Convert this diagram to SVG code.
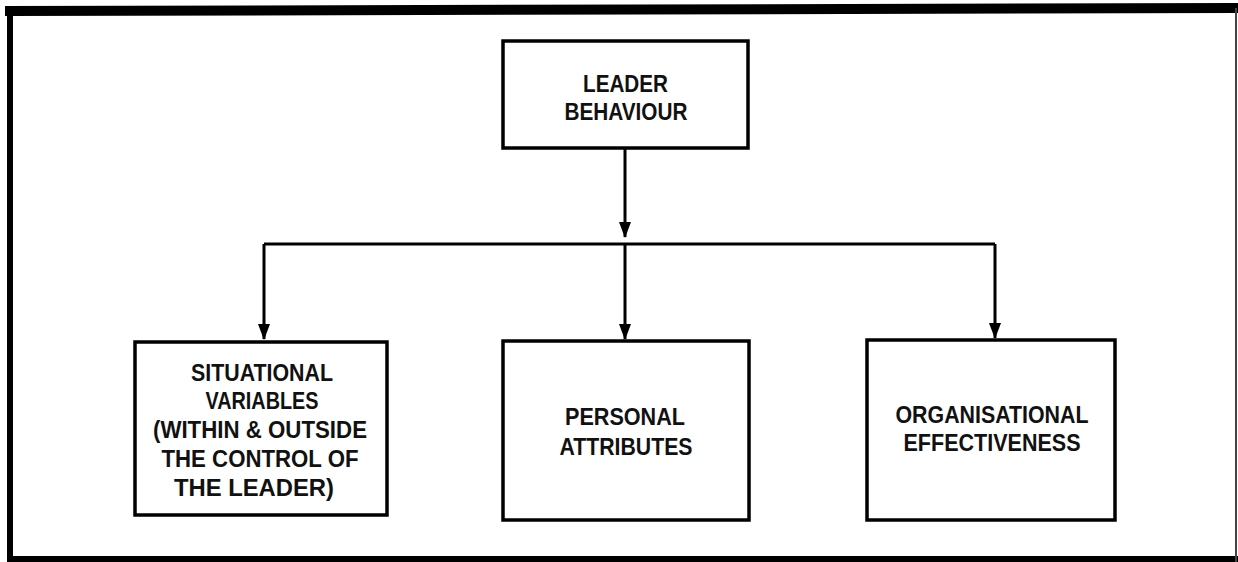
<svg xmlns="http://www.w3.org/2000/svg" width="1238" height="562" viewBox="0 0 1238 562">
<defs>
<style>
.box{fill:#fff;stroke:#000;stroke-width:3.5}
.t{font-family:"Liberation Sans",Arial,sans-serif;font-weight:bold;font-size:23px;fill:#111;text-anchor:middle}
.c{fill:none;stroke:#000;stroke-width:3}
</style>
</defs>
<rect width="1238" height="562" fill="#fff"/>
<g id="frame">
<line x1="5" y1="11" x2="1238" y2="8" stroke="#000" stroke-width="10"/>
<line x1="10" y1="6" x2="10" y2="562" stroke="#000" stroke-width="6"/>
<line x1="10" y1="559" x2="1238" y2="559" stroke="#000" stroke-width="6"/>
<line x1="1236" y1="8" x2="1236" y2="562" stroke="#444" stroke-width="2"/>
</g>
<g id="connectors">
<line class="c" x1="625" y1="148" x2="625" y2="237"/>
<line class="c" x1="264" y1="244" x2="995" y2="244"/>
<polyline class="c" points="264,244 264,339"/>
<polyline class="c" points="625,244 625,339"/>
<polyline class="c" points="995,244 995,338"/>
<path d="M619,222 L631,222 L625,238 Z" fill="#000"/>
<path d="M258,324 L270,324 L264,340 Z" fill="#000"/>
<path d="M619,324 L631,324 L625,340 Z" fill="#000"/>
<path d="M989,323 L1001,323 L995,339 Z" fill="#000"/>
</g>
<g id="leader-behaviour">
<rect class="box" x="503" y="41" width="245" height="107"/>
<text class="t" x="625.5" y="92" textLength="85" lengthAdjust="spacingAndGlyphs">LEADER</text>
<text class="t" x="626" y="120" textLength="123" lengthAdjust="spacingAndGlyphs">BEHAVIOUR</text>
</g>
<g id="situational-variables">
<rect class="box" x="135" y="342" width="252" height="173"/>
<text class="t" x="262" y="381" textLength="142" lengthAdjust="spacingAndGlyphs">SITUATIONAL</text>
<text class="t" x="262" y="409" textLength="113" lengthAdjust="spacingAndGlyphs">VARIABLES</text>
<text class="t" x="260" y="438" textLength="214" lengthAdjust="spacingAndGlyphs">(WITHIN &amp; OUTSIDE</text>
<text class="t" x="260" y="467" textLength="197" lengthAdjust="spacingAndGlyphs">THE CONTROL OF</text>
<text class="t" x="254" y="496" textLength="160" lengthAdjust="spacingAndGlyphs">THE LEADER)</text>
</g>
<g id="personal-attributes">
<rect class="box" x="503" y="341" width="246" height="179"/>
<text class="t" x="625" y="425" textLength="120" lengthAdjust="spacingAndGlyphs">PERSONAL</text>
<text class="t" x="626" y="455" textLength="133" lengthAdjust="spacingAndGlyphs">ATTRIBUTES</text>
</g>
<g id="organisational-effectiveness">
<rect class="box" x="867" y="340" width="248" height="180"/>
<text class="t" x="992" y="423" textLength="193" lengthAdjust="spacingAndGlyphs">ORGANISATIONAL</text>
<text class="t" x="992" y="451" textLength="177" lengthAdjust="spacingAndGlyphs">EFFECTIVENESS</text>
</g>
</svg>
